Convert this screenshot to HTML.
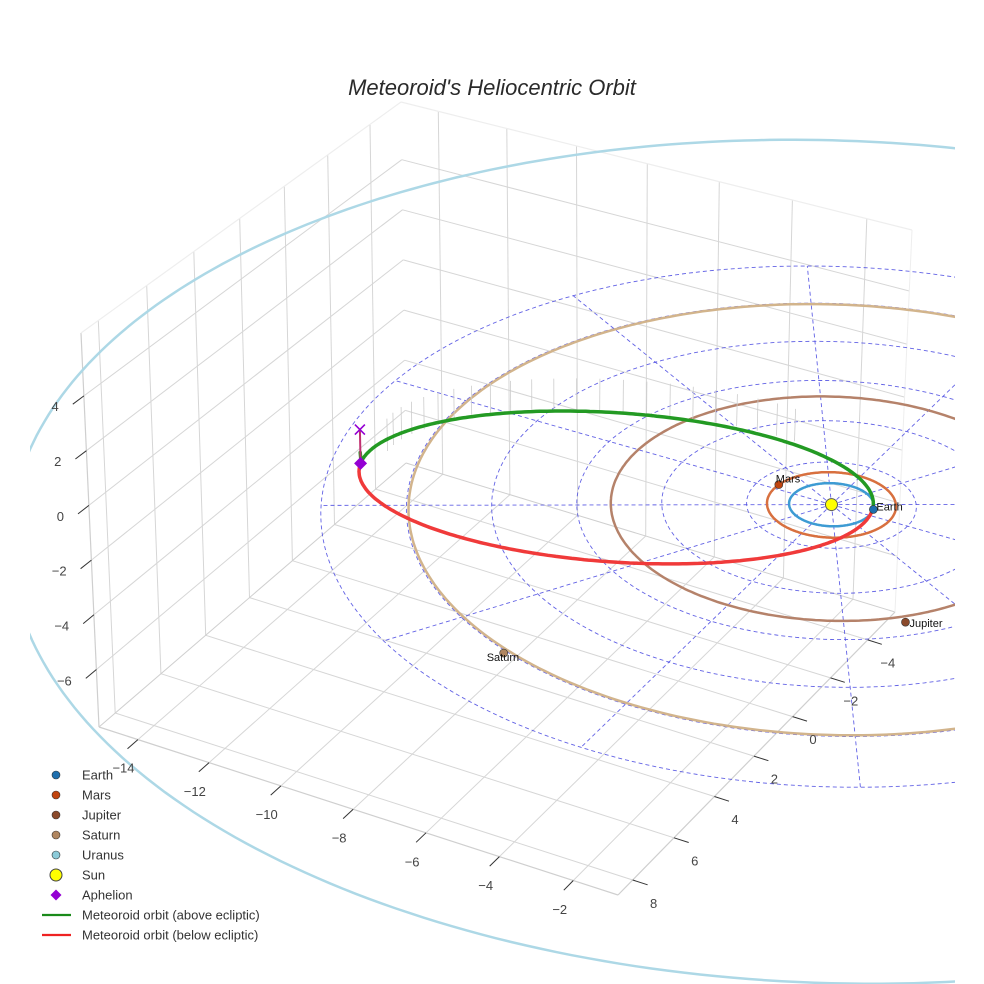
<!DOCTYPE html>
<html><head><meta charset="utf-8">
<style>
html,body{margin:0;padding:0;background:#fff;}
svg{display:block;font-family:"Liberation Sans",Arial,sans-serif;}
</style></head>
<body>
<svg id="chart" width="984" height="984" viewBox="0 0 984 984" xmlns="http://www.w3.org/2000/svg">
<defs><clipPath id="sceneClip"><rect x="30" y="0" width="925" height="984"/></clipPath></defs>
<rect x="0" y="0" width="984" height="984" fill="#fff"/>
<text x="492" y="95" text-anchor="middle" font-size="22" font-style="italic" fill="#2a2a2a">Meteoroid's Heliocentric Orbit</text>
<g id="scene" clip-path="url(#sceneClip)"></g>
<g id="legend"></g>
</svg>
<script>
// ---- data ----
const xTicks = [-14, -12, -10, -8, -6, -4, -2];
const yTicks = [-4, -2, 0, 2, 4, 6, 8];
const zTicks = [-6, -4, -2, 0, 2, 4];
const planetNames = ["Earth", "Mars", "Jupiter", "Saturn", "Uranus"];
const orbitRadii = [1.0, 1.52, 5.2, 9.95, 19.2];
const planetX = [0.96, -1.51, 3.85, -3.4];
const planetY = [-0.29, -0.21, 3.85, 9.5];
const gridRadii = [2, 4, 6, 8, 10, 12];
const gridAngles = [0, 30, 60, 90, 120, 150, 180, 210, 240, 270, 300, 330];
const meteorPerihelion = [0.98];
const meteorAphelion = [11.3];
const meteorInclinationDeg = [2];
const meteorPeriLongDeg = [-20];
const aphelionMarkerZ = [1.25];

// ---- scene geometry ----
const xmin=-15.1,xmax=-0.8,ymin=-5.5,ymax=8.7,zmin=-8.1,zmax=6.3;
function makeH(q){
  const [x0,y0]=q[0],[x1,y1]=q[1],[x2,y2]=q[2],[x3,y3]=q[3];
  const dx1=x1-x2,dx2=x3-x2,dx3=x0-x1+x2-x3,dy1=y1-y2,dy2=y3-y2,dy3=y0-y1+y2-y3;
  const den=dx1*dy2-dx2*dy1;
  const g=(dx3*dy2-dx2*dy3)/den,h=(dx1*dy3-dx3*dy1)/den;
  const a=x1-x0+g*x1,b=x3-x0+h*x3,c=x0,d=y1-y0+g*y1,e=y3-y0+h*y3,f=y0;
  return (u,v)=>{const w=g*u+h*v+1;return [(a*u+b*v+c)/w,(d*u+e*v+f)/w];};
}
const Hf=makeH([[99,727],[618,895],[895,612],[406,463]]);
const Ht=makeH([[81,333],[626,490],[912,230],[401,102]]);
function P(x,y,z){
  const u=(x-xmin)/(xmax-xmin),v=(ymax-y)/(ymax-ymin),w=(z-zmin)/(zmax-zmin);
  const f=Hf(u,v),t=Ht(u,v);
  return [f[0]+(t[0]-f[0])*w,f[1]+(t[1]-f[1])*w];
}
const NS="http://www.w3.org/2000/svg";
const scene=document.getElementById('scene');
const legend=document.getElementById('legend');
function el(tag,attrs,parent){const e=document.createElementNS(NS,tag);for(const k in attrs)e.setAttribute(k,attrs[k]);(parent||scene).appendChild(e);return e;}
function pathOf(pts){return pts.map((p,i)=>(i?'L':'M')+p[0].toFixed(1)+' '+p[1].toFixed(1)).join('');}
function seg(a,b,stroke,sw,name,extra){
  const e=el('path',Object.assign({d:pathOf([a,b]),stroke:stroke,'stroke-width':sw,fill:'none'},extra||{}));
  
  
  return e;
}
const gridC="#d6d6d6";
xTicks.forEach(t=>{seg(P(t,ymin,zmin),P(t,ymax,zmin),gridC,1,'floor-gridline-x');});
yTicks.forEach(t=>{seg(P(xmin,t,zmin),P(xmax,t,zmin),gridC,1,'floor-gridline-y');});
yTicks.forEach(t=>{seg(P(xmin,t,zmin),P(xmin,t,zmax),gridC,1,'left-wall-gridline-y');});
zTicks.forEach(t=>{seg(P(xmin,ymin,t),P(xmin,ymax,t),gridC,1,'left-wall-gridline-z');});
xTicks.forEach(t=>{seg(P(t,ymin,zmin),P(t,ymin,zmax),gridC,1,'back-wall-gridline-x');});
zTicks.forEach(t=>{seg(P(xmin,ymin,t),P(xmax,ymin,t),gridC,1,'back-wall-gridline-z');});
const edgeC="#cfcfcf",edgeL="#eeeeee";
seg(P(xmin,ymax,zmin),P(xmax,ymax,zmin),edgeC,1.2,'x-axis-line');
seg(P(xmax,ymax,zmin),P(xmax,ymin,zmin),edgeC,1.2,'y-axis-line');
seg(P(xmin,ymax,zmin),P(xmin,ymax,zmax),edgeC,1.2,'z-axis-line');
seg(P(xmin,ymin,zmin),P(xmin,ymax,zmin),edgeC,1,'floor-edge');
seg(P(xmin,ymin,zmin),P(xmax,ymin,zmin),edgeC,1,'floor-edge');
seg(P(xmax,ymin,zmin),P(xmax,ymin,zmax),edgeL,1,'wall-edge');
seg(P(xmin,ymax,zmax),P(xmin,ymin,zmax),edgeL,1.2,'wall-top-edge');
seg(P(xmin,ymin,zmax),P(xmax,ymin,zmax),edgeL,1.2,'wall-top-edge');

// ecliptic polar grid
const dashC="rgba(70,70,225,0.85)";
gridRadii.forEach(r=>{
  const pts=[];for(let k=0;k<=240;k++){const a=k/240*2*Math.PI;pts.push(P(r*Math.cos(a),r*Math.sin(a),0));}
  const e=el('path',{d:pathOf(pts),stroke:dashC,'stroke-width':0.9,fill:'none','stroke-dasharray':'4,3'});
  
  
});
const rMax=gridRadii[gridRadii.length-1];
gridAngles.forEach(d=>{
  const a=d*Math.PI/180;
  seg(P(0,0,0),P(rMax*Math.cos(a),rMax*Math.sin(a),0),dashC,0.9,'ecliptic-grid-radial',{'stroke-dasharray':'4,3'});
});

// planet orbits
const orbitColors=["#3d9bd3","#d8703f","#b5826a","#d2b48c","#add8e6"];
orbitRadii.forEach((r,i)=>{
  const pts=[];for(let k=0;k<=360;k++){const a=k/360*2*Math.PI;pts.push(P(r*Math.cos(a),r*Math.sin(a),0));}
  const e=el('path',{d:pathOf(pts),stroke:orbitColors[i],'stroke-width':2.5,fill:'none'});
  
  
});

// meteoroid orbit
const q=meteorPerihelion[0],Qa=meteorAphelion[0];
const aSemi=(q+Qa)/2,ecc=(Qa-q)/(Qa+q),bSemi=Math.sqrt(q*Qa),inc=meteorInclinationDeg[0]*Math.PI/180,lp=meteorPeriLongDeg[0]*Math.PI/180;
function meteor(E){
  const px=aSemi*(Math.cos(E)-ecc),s=bSemi*Math.sin(E);
  const py=s*Math.cos(inc),pz=-s*Math.sin(inc);
  return [px*Math.cos(lp)-py*Math.sin(lp),px*Math.sin(lp)+py*Math.cos(lp),pz];
}
for(let k=1;k<24;k++){
  const E=Math.PI+k/24*Math.PI*0.75;
  const m=meteor(E);
  const a=P(m[0]*0.95,m[1]*0.95,0.3),b=P(m[0]*0.95,m[1]*0.95,1.5);
  seg(a,b,"#cccccc",0.8,'drop-line');
}
const green=[],red=[];
for(let k=0;k<=200;k++){const E=Math.PI+k/200*Math.PI;const m=meteor(E);green.push(P(m[0],m[1],m[2]));}
for(let k=0;k<=200;k++){const E=k/200*Math.PI;const m=meteor(E);red.push(P(m[0],m[1],m[2]));}
const aph=meteor(Math.PI);
const xm=P(aph[0],aph[1],aphelionMarkerZ[0]);
green[0]=[(green[0][0]+xm[0])/2,(green[0][1]+xm[1])/2+6];
let e1=el('path',{d:pathOf(green),stroke:"#239a23",'stroke-width':3.5,fill:'none','stroke-linecap':'round'});


let e2=el('path',{d:pathOf(red),stroke:"#f03a3a",'stroke-width':3.5,fill:'none','stroke-linecap':'round'});


const dm=P(aph[0],aph[1],0);
seg(dm,xm,"#c03070",2,'aphelion-connector');
let xmk=el('path',{d:`M${xm[0]-5} ${xm[1]-5}L${xm[0]+5} ${xm[1]+5}M${xm[0]-5} ${xm[1]+5}L${xm[0]+5} ${xm[1]-5}`,stroke:"#9400d3",'stroke-width':1.6,fill:'none'});


let dmk=el('path',{d:`M${dm[0]} ${dm[1]-6.5}L${dm[0]+6.5} ${dm[1]}L${dm[0]} ${dm[1]+6.5}L${dm[0]-6.5} ${dm[1]}Z`,fill:"#9400d3"});



// sun
const sp=P(0,0,0);
let sun=el('circle',{cx:sp[0],cy:sp[1],r:6,fill:"#ffff00",stroke:"#555",'stroke-width':1});



// planets
const planetColors=["#1f6fae","#c1440e","#8b4a2b","#b08660","#8ccbd9"];
const labelDx=[3,-3,4,-17],labelDy=[1,-2,5,8];
planetX.forEach((px,i)=>{
  const p=P(px,planetY[i],0);
  const c=el('circle',{cx:p[0],cy:p[1],r:4,fill:planetColors[i],stroke:"#333",'stroke-width':0.6});
  
  
  const t=el('text',{x:p[0]+labelDx[i],y:p[1]+labelDy[i],'font-size':11,fill:"#111"});
  t.textContent=planetNames[i];
  
  
});

// ticks and labels
const tickC="#333";
xTicks.forEach(t=>{
  const a=P(t,ymax,zmin),b=P(t,ymax+0.45,zmin);
  seg(a,b,tickC,1,'x-tick');
  const l=el('text',{x:b[0]-4,y:b[1]+24,'font-size':13,fill:"#444",'text-anchor':'middle'});
  l.textContent=String(t).replace('-','\u2212');
  
  
});
yTicks.forEach(t=>{
  const a=P(xmax,t,zmin),b=P(xmax+0.4,t,zmin);
  seg(a,b,tickC,1,'y-tick');
  const l=el('text',{x:b[0]+6,y:b[1]+23,'font-size':13,fill:"#444",'text-anchor':'middle'});
  l.textContent=String(t).replace('-','\u2212');
  
  
});
zTicks.forEach(t=>{
  const a=P(xmin,ymax,t),b=P(xmin,ymax+0.45,t);
  seg(a,b,tickC,1,'z-tick');
  const l=el('text',{x:b[0]-14,y:b[1]+7,'font-size':13,fill:"#444",'text-anchor':'end'});
  l.textContent=String(t).replace('-','\u2212');
  
  
});

// legend
const legItems=["Earth","Mars","Jupiter","Saturn","Uranus","Sun","Aphelion","Meteoroid orbit (above ecliptic)","Meteoroid orbit (below ecliptic)"];
legItems.forEach((name,i)=>{
  const y=775+i*20;
  const g=el('g',{},legend);
  
  
  if(i<5){el('circle',{cx:56,cy:y,r:4,fill:planetColors[i],stroke:"#333",'stroke-width':0.6},g);}
  else if(i===5){el('circle',{cx:56,cy:y,r:6,fill:"#ffff00",stroke:"#444",'stroke-width':1},g);}
  else if(i===6){el('path',{d:`M56 ${y-5.5}L61.5 ${y}L56 ${y+5.5}L50.5 ${y}Z`,fill:"#9400d3"},g);}
  else{el('path',{d:`M42 ${y}L71 ${y}`,stroke:i===7?"#1a8a1a":"#ee2222",'stroke-width':2.2},g);}
  const t=el('text',{x:82,y:y+4.5,'font-size':13,fill:"#333"},g);
  t.textContent=name;
});
</script>
</body></html>
